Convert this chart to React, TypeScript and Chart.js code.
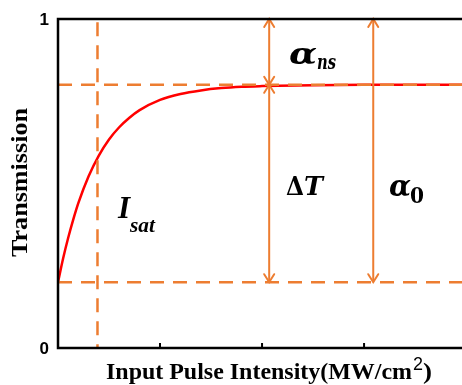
import { useEffect, useRef } from "react";
import { Chart, registerables } from "chart.js";

Chart.register(...registerables);

// ---- data ----
const intensity = [0, 0.05, 0.1, 0.15, 0.2, 0.3, 0.4, 0.5, 0.6, 0.7, 0.8, 1.0, 1.2, 1.4, 1.6, 1.8, 2.0, 2.5, 3.0, 3.5, 3.96];
const transmission = [0.2, 0.272, 0.335, 0.391, 0.441, 0.522, 0.585, 0.634, 0.671, 0.7, 0.723, 0.754, 0.772, 0.783, 0.79, 0.794, 0.796, 0.799, 0.8, 0.8, 0.8];
const saturatedLevel = 0.8;
const baseLevel = 0.2;
const isatValue = 0.387;
const xMin = 0;
const xMax = 3.96;
const arrowNsX = 2.07;
const arrowA0X = 3.09;
const xTickValues = [1, 2, 3];
const yTickValues = [0, 1];
const yTickLabels = ["0", "1"];
const xTitleMain = "Input Pulse Intensity(MW/cm";
const xTitleSup = "2";
const xTitleEnd = ")";
const yTitle = "Transmission";

const ORANGE = "#ED7D31";
const RED = "#FF0000";

function fitText(ctx: CanvasRenderingContext2D, text: string, x: number, y: number, font: string, width?: number) {
  ctx.save();
  ctx.font = font;
  ctx.textAlign = "left";
  ctx.textBaseline = "alphabetic";
  const w = ctx.measureText(text).width;
  ctx.translate(x, y);
  if (width && w > 0) ctx.scale(width / w, 1);
  ctx.fillText(text, 0, 0);
  ctx.restore();
}

const decorPlugin = {
  id: "decor",
  afterDatasetsDraw(chart: any) {
    const ctx: CanvasRenderingContext2D = chart.ctx;
    const xs = chart.scales.x;
    const ys = chart.scales.y;
    const area = chart.chartArea;

    // arrow heads
    chart.data.datasets.forEach((ds: any, i: number) => {
      if (!ds.arrow) return;
      const pts = chart.getDatasetMeta(i).data;
      if (pts.length < 2) return;
      const ends = [
        [pts[0], pts[1]],
        [pts[pts.length - 1], pts[pts.length - 2]],
      ];
      ctx.save();
      ctx.strokeStyle = ORANGE;
      ctx.lineWidth = 2;
      ctx.lineCap = "round";
      for (const [p, q] of ends) {
        const dx = p.x - q.x;
        const dy = p.y - q.y;
        const len = Math.hypot(dx, dy) || 1;
        const ux = dx / len, uy = dy / len;
        const L = 8, W = 5;
        ctx.beginPath();
        ctx.moveTo(p.x - ux * L - uy * W, p.y - uy * L + ux * W);
        ctx.lineTo(p.x, p.y);
        ctx.lineTo(p.x - ux * L + uy * W, p.y - uy * L - ux * W);
        ctx.stroke();
      }
      ctx.restore();
    });

    // frame: left, top, bottom
    ctx.save();
    ctx.strokeStyle = "#000";
    ctx.lineWidth = 2.5;
    ctx.beginPath();
    ctx.moveTo(area.right, area.top);
    ctx.lineTo(area.left, area.top);
    ctx.lineTo(area.left, area.bottom);
    ctx.lineTo(area.right, area.bottom);
    ctx.stroke();
    // inward x ticks
    ctx.lineWidth = 2;
    for (const v of xTickValues) {
      const px = xs.getPixelForValue(v);
      ctx.beginPath();
      ctx.moveTo(px, area.bottom);
      ctx.lineTo(px, area.bottom - 5);
      ctx.stroke();
    }
    ctx.restore();

    // y tick labels
    ctx.save();
    ctx.fillStyle = "#000";
    ctx.font = "bold 17px 'Liberation Sans', Arial, sans-serif";
    ctx.textAlign = "right";
    ctx.textBaseline = "middle";
    yTickValues.forEach((v, i) => {
      ctx.fillText(yTickLabels[i], area.left - 9, ys.getPixelForValue(v) + 1);
    });
    ctx.restore();

    // axis titles
    ctx.save();
    ctx.fillStyle = "#000";
    fitText(ctx, xTitleMain, 106, 379, "bold 24px 'Liberation Serif', 'Times New Roman', serif", 306);
    fitText(ctx, xTitleSup, 413, 370, "18px 'Liberation Sans', Arial, sans-serif", 10);
    fitText(ctx, xTitleEnd, 423, 379, "bold 24px 'Liberation Serif', 'Times New Roman', serif", 9);
    ctx.save();
    ctx.translate(27, 257);
    ctx.rotate(-Math.PI / 2);
    fitText(ctx, yTitle, 0, 0, "bold 23px 'Liberation Serif', 'Times New Roman', serif", 149);
    ctx.restore();
    ctx.restore();

    // annotations
    ctx.save();
    ctx.fillStyle = "#000";
    const greek = "bold italic 30px 'DejaVu Serif', serif";
    // alpha_ns
    fitText(ctx, "α", 289, 64, greek, 28);
    fitText(ctx, "ns", 317, 69, "bold italic 20px 'DejaVu Serif', serif", 19);
    // Delta T
    fitText(ctx, "Δ", 286, 195, "bold 26px 'DejaVu Serif', serif", 18);
    fitText(ctx, "T", 304, 195, "bold italic 26px 'DejaVu Serif', serif", 19);
    // alpha_0
    fitText(ctx, "α", 389, 196, greek, 22);
    fitText(ctx, "0", 410, 203, "bold 23px 'DejaVu Serif', serif", 14);
    // I_sat
    fitText(ctx, "I", 118, 218, "bold italic 31px 'Liberation Serif', 'Times New Roman', serif");
    fitText(ctx, "sat", 130, 232, "bold italic 22px 'Liberation Serif', 'Times New Roman', serif", 25);
    ctx.restore();
  },
};

export default function App() {
  const ref = useRef<HTMLCanvasElement | null>(null);

  useEffect(() => {
    if (!ref.current) return;
    const dash = [14, 9];
    const chart = new Chart(ref.current, {
      type: "line",
      data: {
        datasets: [
          {
            data: [{ x: xMin, y: saturatedLevel }, { x: xMax, y: saturatedLevel }],
            borderColor: ORANGE, borderWidth: 2.5, borderDash: dash, pointRadius: 0,
          },
          {
            data: [{ x: xMin, y: baseLevel }, { x: xMax, y: baseLevel }],
            borderColor: ORANGE, borderWidth: 2.5, borderDash: dash, pointRadius: 0,
          },
          {
            data: [{ x: isatValue, y: 0.99 }, { x: isatValue, y: 0 }],
            borderColor: ORANGE, borderWidth: 2.5, borderDash: dash, pointRadius: 0,
          },
          {
            data: [{ x: arrowNsX, y: 1 }, { x: arrowNsX, y: saturatedLevel }],
            borderColor: ORANGE, borderWidth: 2, pointRadius: 0, arrow: true,
          } as any,
          {
            data: [{ x: arrowNsX, y: saturatedLevel }, { x: arrowNsX, y: baseLevel }],
            borderColor: ORANGE, borderWidth: 2, pointRadius: 0, arrow: true,
          } as any,
          {
            data: [{ x: arrowA0X, y: 1 }, { x: arrowA0X, y: baseLevel }],
            borderColor: ORANGE, borderWidth: 2, pointRadius: 0, arrow: true,
          } as any,
          {
            data: intensity.map((x, i) => ({ x, y: transmission[i] })),
            borderColor: RED, borderWidth: 2.5, pointRadius: 0,
            cubicInterpolationMode: "monotone",
          },
        ],
      },
      options: {
        animation: false,
        responsive: false,
        devicePixelRatio: 1,
        layout: { padding: { left: 58, top: 19, right: 0, bottom: 37 } },
        scales: {
          x: { type: "linear", min: xMin, max: xMax, display: false },
          y: { type: "linear", min: 0, max: 1, display: false },
        },
        plugins: { legend: { display: false }, tooltip: { enabled: false } },
        events: [],
      },
      plugins: [decorPlugin],
    });
    return () => chart.destroy();
  }, []);

  return (
    <div style={{ position: "absolute", left: 0, top: 0, width: 462, height: 385, background: "#fff" }}>
      <canvas ref={ref} width={462} height={385} style={{ display: "block" }} />
    </div>
  );
}
